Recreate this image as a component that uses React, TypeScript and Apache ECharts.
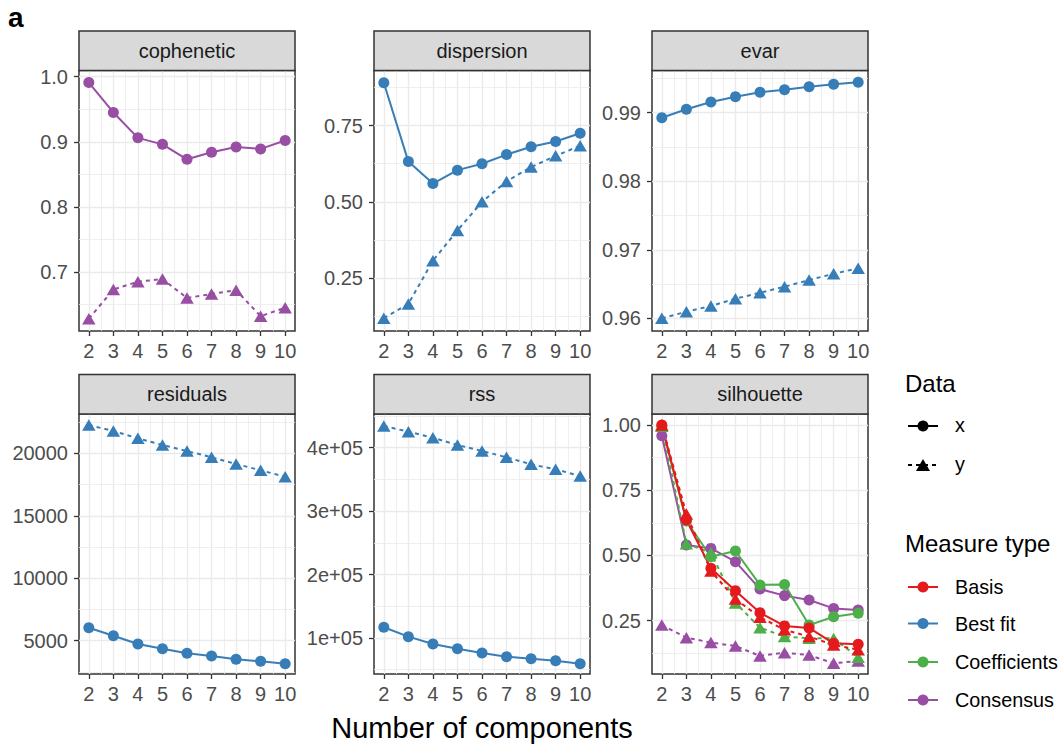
import React, { useEffect, useRef } from "react";
import * as echarts from "echarts";

// Number of NMF components (x axis of every facet)
const components = [2, 3, 4, 5, 6, 7, 8, 9, 10];

// Measures per rank; "X" = data x (solid, circles), "Y" = data y (dashed, triangles)
const copheneticX = [0.991, 0.945, 0.906, 0.896, 0.873, 0.884, 0.892, 0.889, 0.902];
const copheneticY = [0.628, 0.673, 0.685, 0.689, 0.66, 0.666, 0.672, 0.632, 0.645];
const dispersionX = [0.891, 0.632, 0.56, 0.604, 0.625, 0.655, 0.681, 0.698, 0.725];
const dispersionY = [0.118, 0.165, 0.307, 0.406, 0.5, 0.567, 0.614, 0.651, 0.684];
const evarX = [0.98927, 0.9905, 0.99156, 0.99234, 0.99298, 0.99336, 0.9938, 0.99415, 0.99444];
const evarY = [0.96, 0.96097, 0.9618, 0.96286, 0.96374, 0.96461, 0.96559, 0.9665, 0.9673];
const residualsX = [6040, 5400, 4736, 4360, 3991, 3775, 3511, 3351, 3159];
const residualsY = [22265, 21785, 21199, 20664, 20184, 19680, 19144, 18640, 18127];
const rssX = [116870, 102100, 90540, 83130, 76350, 70520, 67370, 64210, 59480];
const rssY = [434200, 425200, 415770, 404260, 394800, 384860, 373830, 365950, 355400];
const silBasisX = [1.0, 0.636, 0.451, 0.365, 0.28, 0.23, 0.222, 0.163, 0.16];
const silBasisY = [1.0, 0.659, 0.44, 0.333, 0.263, 0.215, 0.189, 0.157, 0.139];
const silCoefX = [0.995, 0.632, 0.495, 0.517, 0.387, 0.389, 0.233, 0.265, 0.278];
const silCoefY = [0.995, 0.545, 0.51, 0.318, 0.223, 0.189, 0.183, 0.182, 0.11];
const silConsX = [0.959, 0.54, 0.527, 0.476, 0.371, 0.346, 0.329, 0.297, 0.291];
const silConsY = [0.233, 0.185, 0.166, 0.153, 0.115, 0.127, 0.118, 0.087, 0.095];

// Y axis breaks and their labels
const copheneticTicks = [0.7, 0.8, 0.9, 1.0];
const copheneticLabels = ["0.7", "0.8", "0.9", "1.0"];
const dispersionTicks = [0.25, 0.5, 0.75];
const dispersionLabels = ["0.25", "0.50", "0.75"];
const evarTicks = [0.96, 0.97, 0.98, 0.99];
const evarLabels = ["0.96", "0.97", "0.98", "0.99"];
const residualsTicks = [5000, 10000, 15000, 20000];
const residualsLabels = ["5000", "10000", "15000", "20000"];
const rssTicks = [100000, 200000, 300000, 400000];
const rssLabels = ["1e+05", "2e+05", "3e+05", "4e+05"];
const silhouetteTicks = [0.25, 0.5, 0.75, 1.0];
const silhouetteLabels = ["0.25", "0.50", "0.75", "1.00"];

// Y axis limits (data range with ggplot-style padding)
const copheneticLim = [0.6092, 1.0095];
const dispersionLim = [0.0761, 0.931];
const evarLim = [0.95815, 0.99616];
const residualsLim = [2335, 23146];
const rssLim = [43240, 453130];
const silhouetteLim = [0.0456, 1.042];

const measureTypes = ["Basis", "Best fit", "Coefficients", "Consensus"];
const measureColors = ["#E41A1C", "#377EB8", "#4DAF4A", "#984EA3"];
const dataKinds = ["x", "y"];

const FONT = "'Liberation Sans', Arial, Helvetica, sans-serif";
const SMALL = 20;

type Line = { values: number[]; color: string; dashed: boolean };
type Panel = {
  title: string;
  ticks: number[];
  labels: string[];
  lim: number[];
  lines: Line[];
};

const RED = measureColors[0];
const BLUE = measureColors[1];
const GREEN = measureColors[2];
const PURPLE = measureColors[3];

const panels: Panel[] = [
  {
    title: "cophenetic",
    ticks: copheneticTicks,
    labels: copheneticLabels,
    lim: copheneticLim,
    lines: [
      { values: copheneticX, color: PURPLE, dashed: false },
      { values: copheneticY, color: PURPLE, dashed: true },
    ],
  },
  {
    title: "dispersion",
    ticks: dispersionTicks,
    labels: dispersionLabels,
    lim: dispersionLim,
    lines: [
      { values: dispersionX, color: BLUE, dashed: false },
      { values: dispersionY, color: BLUE, dashed: true },
    ],
  },
  {
    title: "evar",
    ticks: evarTicks,
    labels: evarLabels,
    lim: evarLim,
    lines: [
      { values: evarX, color: BLUE, dashed: false },
      { values: evarY, color: BLUE, dashed: true },
    ],
  },
  {
    title: "residuals",
    ticks: residualsTicks,
    labels: residualsLabels,
    lim: residualsLim,
    lines: [
      { values: residualsX, color: BLUE, dashed: false },
      { values: residualsY, color: BLUE, dashed: true },
    ],
  },
  {
    title: "rss",
    ticks: rssTicks,
    labels: rssLabels,
    lim: rssLim,
    lines: [
      { values: rssX, color: BLUE, dashed: false },
      { values: rssY, color: BLUE, dashed: true },
    ],
  },
  {
    title: "silhouette",
    ticks: silhouetteTicks,
    labels: silhouetteLabels,
    lim: silhouetteLim,
    lines: [
      { values: silConsY, color: PURPLE, dashed: true },
      { values: silConsX, color: PURPLE, dashed: false },
      { values: silCoefY, color: GREEN, dashed: true },
      { values: silCoefX, color: GREEN, dashed: false },
      { values: silBasisY, color: RED, dashed: true },
      { values: silBasisX, color: RED, dashed: false },
    ],
  },
];

// Facet layout (pixels)
const COL_LEFT = [79, 374, 652];
const ROW_TOP = [70.5, 414];
const ROW_HEIGHT = [260.5, 260];
const STRIP_TOP = [31, 374.5];
const PANEL_W = 216;
const X_MIN = 1.6;
const X_MAX = 10.4;

function minorBreaks(ticks: number[], lim: number[]): number[] {
  const step = ticks[1] - ticks[0];
  const out: number[] = [];
  const all = [ticks[0] - step, ...ticks, ticks[ticks.length - 1] + step];
  for (let i = 0; i < all.length - 1; i++) {
    const m = (all[i] + all[i + 1]) / 2;
    if (m > lim[0] && m < lim[1]) out.push(m);
  }
  return out;
}

function buildOption() {
  const grid: any[] = [];
  const xAxis: any[] = [];
  const yAxis: any[] = [];
  const lineSeries: any[] = [];
  const pointSeries: any[] = [];
  const graphic: any[] = [];

  const minorX = components.slice(0, -1).map((k) => k + 0.5);

  panels.forEach((p, i) => {
    const row = Math.floor(i / 3);
    const col = i % 3;
    const left = COL_LEFT[col];
    const top = ROW_TOP[row];
    const height = ROW_HEIGHT[row];

    grid.push({
      left,
      top,
      width: PANEL_W,
      height,
      show: true,
      backgroundColor: "#FFFFFF",
      borderColor: "#333333",
      borderWidth: 1.5,
      containLabel: false,
      outerBoundsMode: "none",
    });

    const labelStyle = { fontSize: SMALL, color: "#4D4D4D", fontFamily: FONT };

    xAxis.push({
      type: "value",
      gridIndex: i,
      min: X_MIN,
      max: X_MAX,
      position: "bottom",
      axisLine: { show: false },
      axisTick: {
        show: true,
        length: 5,
        customValues: components,
        lineStyle: { color: "#333333", width: 1.3 },
      },
      axisLabel: {
        ...labelStyle,
        margin: 10,
        customValues: components,
        formatter: (v: number) => String(v),
      },
      splitLine: { show: true, lineStyle: { color: "#EBEBEB", width: 1.4 } },
    });
    xAxis.push({
      type: "value",
      gridIndex: i,
      min: X_MIN,
      max: X_MAX,
      position: "top",
      axisLine: { show: false },
      axisTick: { show: false, customValues: minorX },
      axisLabel: { show: false, customValues: minorX },
      splitLine: { show: true, lineStyle: { color: "#EBEBEB", width: 0.8 } },
    });

    const minorY = minorBreaks(p.ticks, p.lim);
    yAxis.push({
      type: "value",
      gridIndex: i,
      min: p.lim[0],
      max: p.lim[1],
      position: "left",
      axisLine: { show: false },
      axisTick: {
        show: true,
        length: 5,
        customValues: p.ticks,
        lineStyle: { color: "#333333", width: 1.3 },
      },
      axisLabel: {
        ...labelStyle,
        margin: 11,
        customValues: p.ticks,
        formatter: (v: number) => {
          const idx = p.ticks.findIndex((t) => Math.abs(t - v) <= 1e-9 * Math.max(1, Math.abs(t)));
          return idx >= 0 ? p.labels[idx] : "";
        },
      },
      splitLine: { show: true, lineStyle: { color: "#EBEBEB", width: 1.4 } },
    });
    yAxis.push({
      type: "value",
      gridIndex: i,
      min: p.lim[0],
      max: p.lim[1],
      position: "right",
      axisLine: { show: false },
      axisTick: { show: false, customValues: minorY },
      axisLabel: { show: false, customValues: minorY },
      splitLine: { show: true, lineStyle: { color: "#EBEBEB", width: 0.8 } },
    });

    p.lines.forEach((ln) => {
      const data = components.map((k, j) => [k, ln.values[j]]);
      lineSeries.push({
        type: "line",
        xAxisIndex: 2 * i,
        yAxisIndex: 2 * i,
        data,
        symbol: "none",
        silent: true,
        clip: false,
        lineStyle: { color: ln.color, width: 2, type: ln.dashed ? [4, 4] : "solid" },
        z: 2,
      });
      pointSeries.push({
        type: "scatter",
        xAxisIndex: 2 * i,
        yAxisIndex: 2 * i,
        data,
        symbol: ln.dashed ? "triangle" : "circle",
        symbolSize: ln.dashed ? [13.5, 11.5] : 11,
        silent: true,
        itemStyle: { color: ln.color, opacity: 1 },
        z: 3,
      });
    });

    // Facet strip
    const stripTop = STRIP_TOP[row];
    graphic.push({
      type: "rect",
      shape: { x: left, y: stripTop, width: PANEL_W, height: top - stripTop },
      style: { fill: "#D9D9D9", stroke: "#333333", lineWidth: 1.5 },
      z: 10,
    });
    graphic.push({
      type: "text",
      x: left + PANEL_W / 2,
      y: (stripTop + top) / 2,
      style: {
        text: p.title,
        fontSize: SMALL,
        fontFamily: FONT,
        fill: "#1A1A1A",
        align: "center",
        verticalAlign: "middle",
      },
      z: 11,
    });
  });

  // Shared axis title and figure tag
  graphic.push({
    type: "text",
    x: 482,
    y: 728,
    style: {
      text: "Number of components",
      fontSize: 29,
      fontFamily: FONT,
      fill: "#000000",
      align: "center",
      verticalAlign: "middle",
    },
  });
  graphic.push({
    type: "text",
    x: 8,
    y: 17,
    style: {
      text: "a",
      fontSize: 28,
      fontWeight: "bold",
      fontFamily: FONT,
      fill: "#000000",
      align: "left",
      verticalAlign: "middle",
    },
  });

  // Legend: Data (line type / shape)
  const keyX1 = 908;
  const keyX2 = 938;
  const keyC = 923;
  const textX = 955;
  graphic.push({
    type: "text",
    x: 905,
    y: 383,
    style: { text: "Data", fontSize: 24, fontFamily: FONT, fill: "#000", verticalAlign: "middle" },
  });
  const dataRows = [426, 465];
  dataKinds.forEach((kind, j) => {
    const y = dataRows[j];
    graphic.push({
      type: "line",
      shape: { x1: keyX1, y1: y, x2: keyX2, y2: y },
      style: { stroke: "#000", lineWidth: 2, lineDash: j === 1 ? [4, 4] : null },
    });
    if (j === 0) {
      graphic.push({ type: "circle", shape: { cx: keyC, cy: y, r: 5.5 }, style: { fill: "#000" } });
    } else {
      graphic.push({
        type: "polygon",
        shape: { points: [[keyC - 7, y + 6], [keyC + 7, y + 6], [keyC, y - 6]] },
        style: { fill: "#000" },
      });
    }
    graphic.push({
      type: "text",
      x: textX,
      y: y - 1.5,
      style: { text: kind, fontSize: 19.8, fontFamily: FONT, fill: "#000", verticalAlign: "middle" },
    });
  });

  // Legend: Measure type (colour)
  graphic.push({
    type: "text",
    x: 905,
    y: 543,
    style: { text: "Measure type", fontSize: 24, fontFamily: FONT, fill: "#000", verticalAlign: "middle" },
  });
  const measureRows = [587, 623.5, 662, 700];
  measureTypes.forEach((name, j) => {
    const y = measureRows[j];
    graphic.push({
      type: "line",
      shape: { x1: keyX1, y1: y, x2: keyX2, y2: y },
      style: { stroke: measureColors[j], lineWidth: 2 },
    });
    graphic.push({ type: "circle", shape: { cx: keyC, cy: y, r: 5.5 }, style: { fill: measureColors[j] } });
    graphic.push({
      type: "text",
      x: textX,
      y,
      style: { text: name, fontSize: 19.8, fontFamily: FONT, fill: "#000", verticalAlign: "middle" },
    });
  });

  return {
    animation: false,
    backgroundColor: "#FFFFFF",
    grid,
    xAxis,
    yAxis,
    series: [...lineSeries, ...pointSeries],
    graphic,
  };
}

export default function App() {
  const ref = useRef<HTMLDivElement>(null);
  useEffect(() => {
    if (!ref.current) return;
    const chart = echarts.init(ref.current, undefined, { renderer: "svg" });
    chart.setOption(buildOption() as any);
    return () => chart.dispose();
  }, []);
  return (
    <div
      ref={ref}
      style={{ position: "absolute", left: 0, top: 0, width: 1059, height: 746, background: "#fff" }}
    />
  );
}
